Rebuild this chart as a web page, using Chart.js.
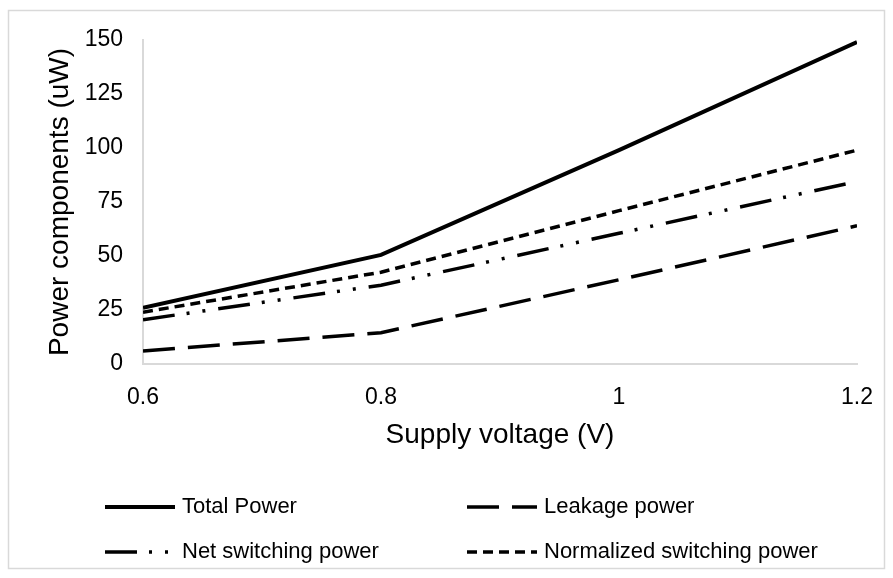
<!DOCTYPE html>
<html>
<head>
<meta charset="utf-8">
<script src="https://cdn.jsdelivr.net/npm/chart.js@4/dist/chart.umd.min.js"></script>
<style>
  html, body { margin: 0; padding: 0; background: #fff; }
  #wrap { width: 893px; height: 578px; }
</style>
</head>
<body>
<div id="wrap"><canvas id="powerChart" width="893" height="578"></canvas></div>
<script>
// values
const voltages = [0.6, 0.8, 1.0, 1.2];
const xTicks = [0.6, 0.8, 1, 1.2];
const totalPower = [26, 50.5, 99, 149];
const leakagePower = [6, 14.5, 39, 64];
const netSwitching = [20.5, 36.5, 60.5, 84.5];
const normSwitching = [24, 42.5, 71, 99];
const seriesNames = ['Total Power', 'Leakage power', 'Net switching power', 'Normalized switching power'];

const FONT = "'Liberation Sans', Arial, sans-serif";

function toPoints(vals) {
    return voltages.map((v, i) => ({x: v, y: vals[i]}));
}

function makeSet(label, vals, dash, width) {
    return {
        label: label,
        data: toPoints(vals),
        borderColor: '#000',
        backgroundColor: '#000',
        borderWidth: width,
        borderDash: dash,
        borderCapStyle: 'butt',
        tension: 0,
        pointRadius: 0,
        fill: false
    };
}

// legend in two columns under the chart, drawn by hand
const gridLegend = {
    id: 'gridLegend',
    afterDraw(chart) {
        const ctx = chart.ctx;
        const colX = [105, 467];
        const rowY = [507, 552];
        chart.data.datasets.forEach((ds, i) => {
            const x = colX[i % 2];
            const y = rowY[Math.floor(i / 2)];
            ctx.save();
            ctx.strokeStyle = ds.borderColor;
            ctx.lineWidth = ds.borderWidth;
            ctx.lineCap = 'butt';
            ctx.setLineDash(ds.borderDash || []);
            ctx.beginPath();
            ctx.moveTo(x, y);
            ctx.lineTo(x + 70, y);
            ctx.stroke();
            ctx.setLineDash([]);
            ctx.fillStyle = '#000';
            ctx.font = '22px ' + FONT;
            ctx.textBaseline = 'middle';
            ctx.textAlign = 'left';
            ctx.fillText(ds.label, x + 77, y);
            ctx.restore();
        });
    }
};

const outerBorder = {
    id: 'outerBorder',
    beforeDraw(chart) {
        const ctx = chart.ctx;
        ctx.save();
        ctx.fillStyle = '#fff';
        ctx.fillRect(0, 0, chart.width, chart.height);
        ctx.strokeStyle = '#d9d9d9';
        ctx.lineWidth = 1.5;
        ctx.strokeRect(8.5, 10.5, 876, 558);
        ctx.restore();
    }
};

const data = {
    datasets: [
        makeSet(seriesNames[0], totalPower, [], 4),
        makeSet(seriesNames[1], leakagePower, [32, 13], 3.5),
        makeSet(seriesNames[2], netSwitching, [32, 12, 3, 13, 3, 13], 3.5),
        makeSet(seriesNames[3], normSwitching, [10, 6], 3.5)
    ]
};

const config = {
    type: 'line',
    data: data,
    options: {
        responsive: false,
        animation: false,
        layout: { padding: { left: 0, right: 30, top: 40, bottom: 114 } },
        plugins: {
            legend: { display: false },
            tooltip: { enabled: false }
        },
        scales: {
            x: {
                type: 'linear',
                min: 0.6,
                max: 1.2,
                afterBuildTicks: (scale) => { scale.ticks = xTicks.map(v => ({value: v})); },
                afterFit: (scale) => { scale.height = 100; },
                grid: { display: false, drawTicks: false },
                border: { display: true, color: '#d9d9d9', width: 2 },
                ticks: {
                    padding: 20,
                    color: '#000',
                    font: { family: FONT, size: 23 },
                    maxRotation: 0,
                    callback: (v) => String(Math.round(v * 10) / 10)
                },
                title: {
                    display: true,
                    text: 'Supply voltage (V)',
                    color: '#000',
                    font: { family: FONT, size: 28 },
                    padding: { top: 0, bottom: 12 }
                }
            },
            y: {
                min: 0,
                max: 150,
                afterFit: (scale) => { scale.width = 143; },
                grid: { display: false, drawTicks: false },
                border: { display: true, color: '#d9d9d9', width: 2 },
                ticks: {
                    stepSize: 25,
                    padding: 20,
                    color: '#000',
                    font: { family: FONT, size: 23 }
                },
                title: {
                    display: true,
                    text: 'Power components (uW)',
                    color: '#000',
                    font: { family: FONT, size: 28 },
                    padding: { top: 43, bottom: 0 }
                }
            }
        }
    },
    plugins: [outerBorder, gridLegend]
};

let ctx = document.getElementById('powerChart').getContext('2d');
new Chart(ctx, config);
</script>
</body>
</html>
